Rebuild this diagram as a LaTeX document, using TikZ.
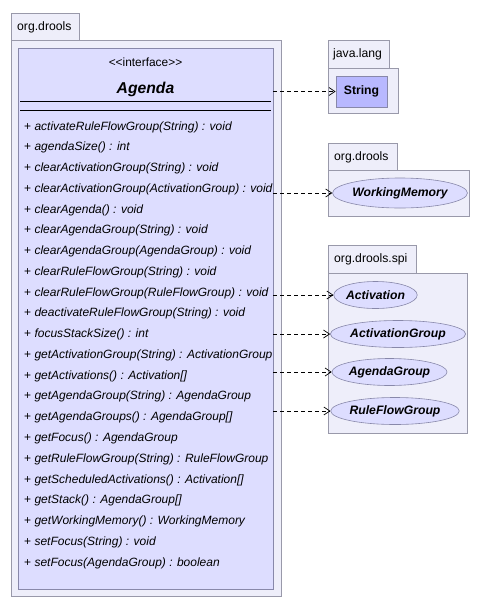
\documentclass[tikz,border=0pt]{standalone}
\usepackage{fontspec}
\setmainfont{Liberation Sans}
\usetikzlibrary{shapes.geometric,arrows.meta}
\definecolor{pkgfill}{HTML}{EEEEFA}
\definecolor{pkgline}{HTML}{9999AA}
\definecolor{clsfill}{HTML}{DDDDFF}
\definecolor{clsline}{HTML}{8888AA}
\definecolor{strfill}{HTML}{B8B8FF}
\tikzset{
  pkg/.style={draw=pkgline,fill=pkgfill,line width=0.8pt},
  pkglabel/.style={anchor=west,font=\fontsize{12.2}{14}\selectfont,inner sep=0pt},
  meth/.style={anchor=west,font=\fontsize{12}{14}\selectfont,inner sep=0pt},
  ell/.style={ellipse,draw=clsline,fill=clsfill,line width=0.6pt,inner sep=0pt,font=\fontsize{12.2}{14}\selectfont\bfseries\itshape},
  dep/.style={dashed,dash pattern=on 4pt off 3pt,line width=0.7pt,-{Straight Barb[length=6pt,width=8pt,line width=0.7pt]}},
}
\begin{document}
\begin{tikzpicture}[x=1pt,y=-1pt]
\useasboundingbox (0,0) rectangle (481,611);
\fill[white] (0,0) rectangle (481,611);
% package org.drools (main)
\draw[pkg] (11,13) rectangle (79,40);
\draw[pkg] (11,40) rectangle (281,596);
\node[pkglabel] (p1) at (17,27) {org.drools};
% class Agenda
\draw[draw=clsline,fill=clsfill,line width=0.8pt] (18,48) rectangle (273,589);
\node (agbox) at (145.5,318) [minimum width=255pt,minimum height=541pt,inner sep=0pt] {};
\node[font=\fontsize{11.9}{14}\selectfont] (stereo) at (145.5,62) {<{}<interface>{}>};
\node[font=\fontsize{15.7}{18}\selectfont\bfseries\itshape] (agname) at (145.5,89) {Agenda};
\draw[line width=0.8pt] (20,101) -- (271,101);
\draw[line width=0.8pt] (20,110) -- (271,110);
\foreach \t [count=\i from 0] in {
  activateRuleFlowGroup(String) : void,
  agendaSize() : int,
  clearActivationGroup(String) : void,
  clearActivationGroup(ActivationGroup) : void,
  clearAgenda() : void,
  clearAgendaGroup(String) : void,
  clearAgendaGroup(AgendaGroup) : void,
  clearRuleFlowGroup(String) : void,
  clearRuleFlowGroup(RuleFlowGroup) : void,
  deactivateRuleFlowGroup(String) : void,
  focusStackSize() : int,
  getActivationGroup(String) : ActivationGroup,
  getActivations() : Activation[],
  getAgendaGroup(String) : AgendaGroup,
  getAgendaGroups() : AgendaGroup[],
  getFocus() : AgendaGroup,
  getRuleFlowGroup(String) : RuleFlowGroup,
  getScheduledActivations() : Activation[],
  getStack() : AgendaGroup[],
  getWorkingMemory() : WorkingMemory,
  setFocus(String) : void,
  setFocus(AgendaGroup) : boolean}
{
  \node[meth] (m\i) at (24,{127+\i*20.76}) {+ \textit{\t}};
}
% package java.lang
\draw[pkg] (328,40) rectangle (389,68);
\draw[pkg] (328,68) rectangle (398,113);
\node[pkglabel] (p2) at (333,54) {java.lang};
\node[draw=clsline,fill=strfill,line width=0.8pt,minimum width=51pt,minimum height=31pt,inner sep=0pt,font=\fontsize{12.2}{14}\selectfont\bfseries] (string) at (361.5,91.5) {String};
% package org.drools
\draw[pkg] (328,143) rectangle (397,170);
\draw[pkg] (328,170) rectangle (469,216);
\node[pkglabel] (p3) at (334,157) {org.drools};
\node[ell,minimum width=126pt,minimum height=30pt] (wm) at (400,193) {WorkingMemory};
% package org.drools.spi
\draw[pkg] (328,245) rectangle (416,273);
\draw[pkg] (328,273) rectangle (467,433);
\node[pkglabel] (p4) at (334,259) {org.drools.spi};
\node[ell,minimum width=77pt,minimum height=27pt] (act) at (375.5,295) {Activation};
\node[ell,minimum width=122pt,minimum height=27pt] (actg) at (398,334) {ActivationGroup};
\node[ell,minimum width=105pt,minimum height=27pt] (ag) at (389.5,372) {AgendaGroup};
\node[ell,minimum width=116pt,minimum height=27pt] (rfg) at (395,411) {RuleFlowGroup};
% dependencies
\draw[dep] (agbox.east |- string.west) -- (string.west);
\draw[dep] (agbox.east |- wm.west) -- (wm.west);
\draw[dep] (agbox.east |- act.west) -- (act.west);
\draw[dep] (agbox.east |- actg.west) -- (actg.west);
\draw[dep] (agbox.east |- ag.west) -- (ag.west);
\draw[dep] (agbox.east |- rfg.west) -- (rfg.west);
\end{tikzpicture}
\end{document}
